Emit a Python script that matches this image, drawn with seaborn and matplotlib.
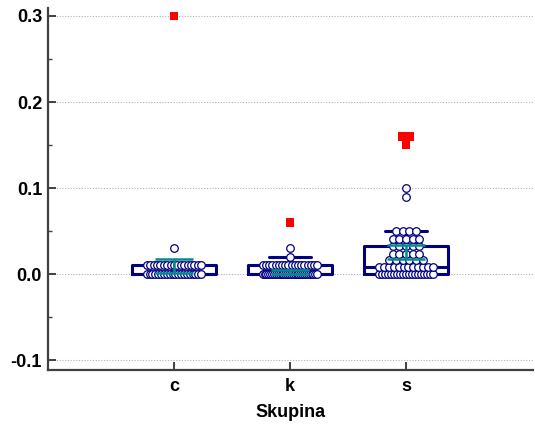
import numpy as np
import pandas as pd
import matplotlib
matplotlib.use("Agg")
import matplotlib.pyplot as plt
import seaborn as sns
from matplotlib.ticker import MultipleLocator

# ---- data -------------------------------------------------------------
groups = ["c", "k", "s"]

c_values = [0.00, 0.01, 0.03, 0.30]
c_counts = [20, 17, 1, 1]

k_values = [0.00, 0.01, 0.02, 0.03, 0.06]
k_counts = [30, 18, 1, 1, 1]

s_values = [0.000, 0.008, 0.016, 0.023, 0.033, 0.041, 0.050, 0.09, 0.10, 0.15, 0.16]
s_counts = [19, 12, 6, 5, 5, 5, 4, 1, 1, 1, 2]

# mean with 95% confidence interval per group
ci_low = [0.001, 0.0005, 0.017]
ci_high = [0.017, 0.005, 0.034]

y_ticks = [-0.1, 0.0, 0.1, 0.2, 0.3]
x_label = "Skupina"

# ---- styling ----------------------------------------------------------
NAVY = "#000080"
TEAL = "#008c8c"
AXIS = "#404040"

sns.set_style("white")
plt.rcParams["font.family"] = ["Liberation Sans", "DejaVu Sans"]
plt.rcParams["font.weight"] = "bold"
plt.rcParams["text.color"] = "black"
plt.rcParams["axes.labelcolor"] = "black"
plt.rcParams["xtick.labelcolor"] = "black"
plt.rcParams["ytick.labelcolor"] = "black"

# ---- build long table -------------------------------------------------
rows = []
for g, vals, cnts in zip(groups, [c_values, k_values, s_values],
                         [c_counts, k_counts, s_counts]):
    for v, n in zip(vals, cnts):
        rows += [(g, v)] * n
df = pd.DataFrame(rows, columns=["Skupina", "value"])

# classify far-out values (beyond 3 IQR) and spread equal values sideways
dot_step, dot_span, far_step = 0.058, 0.47, 0.069
records = []
for gi, g in enumerate(groups):
    v = df.loc[df["Skupina"] == g, "value"].to_numpy()
    q1, q3 = np.percentile(v, [25, 75])
    iqr = q3 - q1
    lo_far, hi_far = q1 - 3 * iqr, q3 + 3 * iqr
    for val in np.unique(v):
        n = int((v == val).sum())
        far = (val > hi_far + 1e-9) or (val < lo_far - 1e-9)
        if far:
            step = far_step
        else:
            step = dot_step if n < 2 else min(dot_step, dot_span / (n - 1))
        offs = (np.arange(n) - (n - 1) / 2) * step
        for o in offs:
            records.append((g, gi + o, val, far))
dots = pd.DataFrame(records, columns=["Skupina", "xpos", "value", "far"])

# ---- figure -----------------------------------------------------------
W, H = 535, 429
fig = plt.figure(figsize=(W / 100, H / 100), dpi=100)
ax = fig.add_axes([48 / W, 1 - 370 / H, 485 / W, 362 / H])

sns.boxplot(data=df, x="Skupina", y="value", order=groups, ax=ax,
            width=0.72, whis=1.5, showfliers=False, fill=False,
            color=NAVY, linecolor=NAVY, linewidth=2.2)

normal = dots[~dots["far"]]
far = dots[dots["far"]]
sns.scatterplot(data=normal, x="xpos", y="value", ax=ax, marker="o",
                s=30, color="white", edgecolor=NAVY, linewidth=0.9,
                zorder=3, legend=False)
sns.scatterplot(data=far, x="xpos", y="value", ax=ax, marker="s",
                s=36, color="red", edgecolor="none", linewidth=0,
                zorder=3, legend=False)

pos = np.arange(len(groups))
mid = (np.array(ci_low) + np.array(ci_high)) / 2
ax.errorbar(pos, mid, yerr=[mid - np.array(ci_low), np.array(ci_high) - mid],
            fmt="none", ecolor=TEAL, elinewidth=1.8, capsize=13.5,
            capthick=1.8, zorder=4)

# ---- axes -------------------------------------------------------------
ax.set_xlim(-1.086, 3.095)
ax.set_ylim(-0.1116, 0.3093)
ax.set_xticks(pos)
ax.set_xticklabels(groups)
ax.set_yticks(y_ticks)
ax.set_yticklabels([f"{t:.1f}" for t in y_ticks])
ax.yaxis.set_minor_locator(MultipleLocator(0.05))

ax.tick_params(axis="y", which="major", direction="in", length=6, width=1.4,
               color=AXIS, pad=4.3, labelsize=13, left=True)
ax.tick_params(axis="y", which="minor", direction="in", length=3, width=1.0,
               color=AXIS, left=True)
ax.tick_params(axis="x", which="major", direction="in", length=6, width=1.4,
               color=AXIS, pad=6, labelsize=13, bottom=True)
for lab in ax.get_xticklabels() + ax.get_yticklabels():
    lab.set_fontweight("bold")
    lab.set_color("black")

ax.yaxis.grid(True, which="major", linestyle=(0, (1, 1.5)),
              color="#b0b0b0", linewidth=0.8)
ax.xaxis.grid(False)
ax.set_axisbelow(True)

for side in ("top", "right"):
    ax.spines[side].set_visible(False)
for side in ("left", "bottom"):
    ax.spines[side].set_color(AXIS)
    ax.spines[side].set_linewidth(1.6)

ax.set_xlabel(x_label, fontsize=13, fontweight="bold", labelpad=6,
              color="black")
ax.set_ylabel("")

fig.savefig("out.png", dpi=100)
